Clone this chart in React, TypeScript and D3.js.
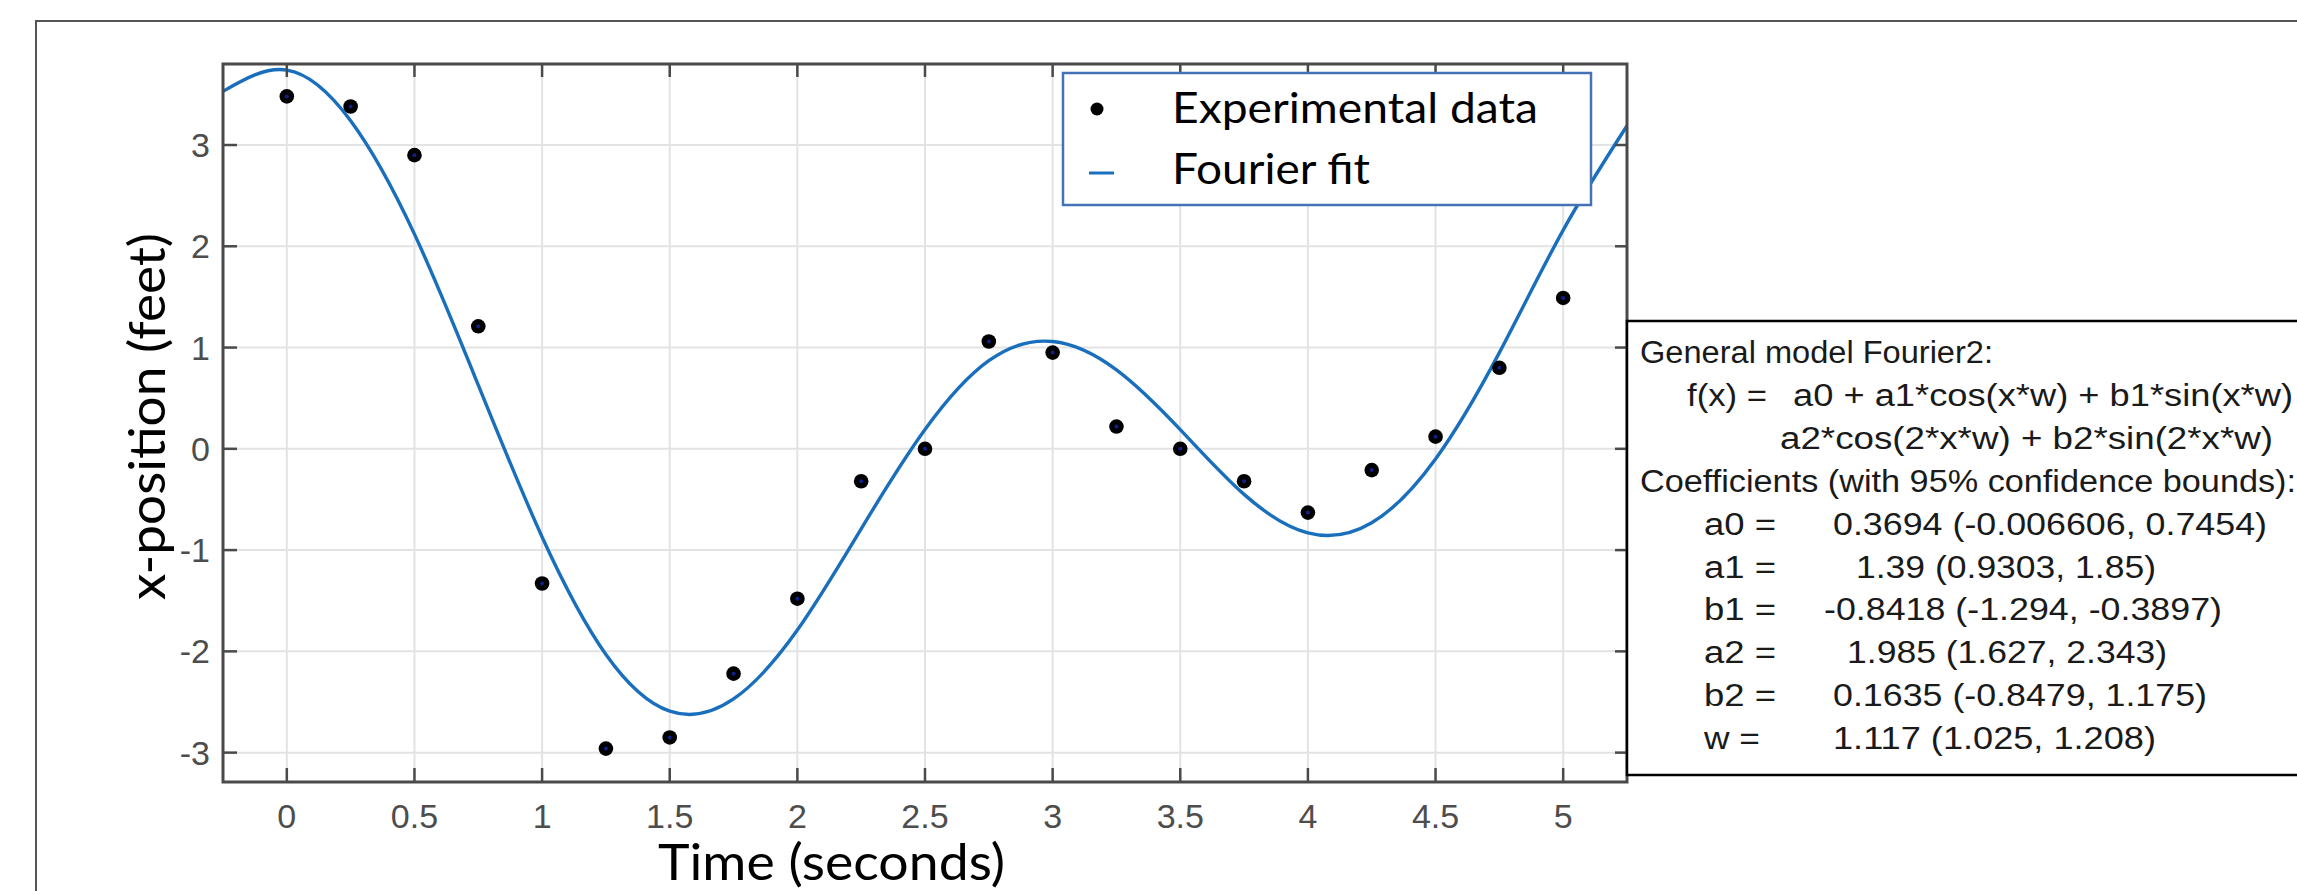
import React, { useEffect } from 'react';
import * as d3 from 'd3';

// measured positions (seconds) and x-position (feet)
const timeValues = [0, 0.25, 0.5, 0.75, 1, 1.25, 1.5, 1.75, 2, 2.25, 2.5, 2.75, 3, 3.25, 3.5, 3.75, 4, 4.25, 4.5, 4.75, 5];
const positionValues = [3.48, 3.38, 2.9, 1.21, -1.33, -2.96, -2.85, -2.22, -1.48, -0.32, 0.0, 1.06, 0.95, 0.22, 0.0, -0.32, -0.63, -0.21, 0.12, 0.8, 1.49];

// fitted curve
const fitTimes = [-0.25, 0, 0.25, 0.5, 0.75, 1, 1.25, 1.5, 1.75, 2, 2.25, 2.5, 2.75, 3, 3.25, 3.5, 3.75, 4, 4.25, 4.5, 4.75, 5, 5.25];
const fitValues = [3.53, 3.74, 3.24, 2.12, 0.63, -0.87, -2.03, -2.59, -2.47, -1.79, -0.79, 0.19, 0.87, 1.06, 0.78, 0.19, -0.45, -0.83, -0.73, -0.1, 0.95, 2.16, 3.19];

const xTicks = [0, 0.5, 1, 1.5, 2, 2.5, 3, 3.5, 4, 4.5, 5];
const xTickLabels = ['0', '0.5', '1', '1.5', '2', '2.5', '3', '3.5', '4', '4.5', '5'];
const yTicks = [-3, -2, -1, 0, 1, 2, 3];
const yTickLabels = ['-3', '-2', '-1', '0', '1', '2', '3'];

const legendLabels = ['Experimental data', 'Fourier fit'];

const fitTitle = 'General model Fourier2:';
const fitLhs = 'f(x) =';
const fitTerms = ['a0 + a1*cos(x*w) + b1*sin(x*w)', 'a2*cos(2*x*w) + b2*sin(2*x*w)'];
const coefHeader = 'Coefficients (with 95% confidence bounds):';
const coefNames = ['a0 =', 'a1 =', 'b1 =', 'a2 =', 'b2 =', 'w ='];
const coefValues = ['0.3694  (-0.006606, 0.7454)', '1.39  (0.9303, 1.85)', '-0.8418  (-1.294, -0.3897)', '1.985  (1.627, 2.343)', '0.1635  (-0.8479, 1.175)', '1.117  (1.025, 1.208)'];

const W = 2297;
const H = 891;
const plot = { left: 223, right: 1627, top: 64, bottom: 782 };

const BLUE = '#1a6fbd';
const AXIS = '#4a4a4a';
const labelFont = 'Lato, "Open Sans", sans-serif';
const tickFont = '"Liberation Sans", Arial, sans-serif';

const App = () => {
    useEffect(() => {
        document.body.style.margin = '0';
    }, []);

    const x = d3.scaleLinear().domain([-0.25, 5.25]).range([plot.left, plot.right]);
    const y = d3.scaleLinear().domain([-3.29, 3.8]).range([plot.bottom, plot.top]);

    const line = d3.line<number>()
        .x((d, i) => x(fitTimes[i]))
        .y(d => y(d))
        .curve(d3.curveNatural);

    // layout of the results box text (starts / widths in px)
    const boxTop = 321;
    const boxLeft = 1627;
    const rowStep = 42.9;
    const firstBase = 363;
    const valueStart = [1833, 1856, 1824, 1847, 1833, 1833];
    const valueWidth = [434, 300, 398, 320, 374, 323];
    const nameWidth = [72, 72, 72, 72, 72, 56];

    return (
        <svg width={W} height={H} style={{ position: 'absolute', left: 0, top: 0, display: 'block' }}>
            <defs>
                <clipPath id="plotClip">
                    <rect x={plot.left} y={plot.top} width={plot.right - plot.left} height={plot.bottom - plot.top} />
                </clipPath>
            </defs>
            <rect x={0} y={0} width={W} height={H} fill="#fff" />

            {/* outer figure frame */}
            <path d={`M36,${H + 5} L36,21 L${W + 5},21`} fill="none" stroke="#555" strokeWidth={2} />

            {/* grid */}
            <g stroke="#e3e3e3" strokeWidth={2}>
                {xTicks.map(t => (
                    <line key={'gx' + t} x1={x(t)} x2={x(t)} y1={plot.top} y2={plot.bottom} />
                ))}
                {yTicks.map(t => (
                    <line key={'gy' + t} x1={plot.left} x2={plot.right} y1={y(t)} y2={y(t)} />
                ))}
            </g>

            {/* fit curve */}
            <path d={line(fitValues) || ''} fill="none" stroke={BLUE} strokeWidth={3.4} clipPath="url(#plotClip)" />

            {/* experimental data */}
            <g>
                {timeValues.map((t, i) => (
                    <g key={'p' + i}>
                        <circle cx={x(t)} cy={y(positionValues[i])} r={7.3} fill="#000" />
                        <circle cx={x(t)} cy={y(positionValues[i])} r={2} fill="#10208a" />
                    </g>
                ))}
            </g>

            {/* axes box and ticks */}
            <rect x={plot.left} y={plot.top} width={plot.right - plot.left} height={plot.bottom - plot.top}
                fill="none" stroke={AXIS} strokeWidth={3} />
            <g stroke={AXIS} strokeWidth={2.5}>
                {xTicks.map(t => (
                    <g key={'tx' + t}>
                        <line x1={x(t)} x2={x(t)} y1={plot.bottom} y2={plot.bottom - 14} />
                        <line x1={x(t)} x2={x(t)} y1={plot.top} y2={plot.top + 13} />
                    </g>
                ))}
                {yTicks.map(t => (
                    <g key={'ty' + t}>
                        <line x1={plot.left} x2={plot.left + 14} y1={y(t)} y2={y(t)} />
                        <line x1={plot.right} x2={plot.right - 12} y1={y(t)} y2={y(t)} />
                    </g>
                ))}
            </g>

            {/* tick labels */}
            <g fill="#4d4d4d" fontFamily={tickFont} fontSize={34}>
                {xTicks.map((t, i) => (
                    <text key={'lx' + t} x={x(t)} y={828} textAnchor="middle">{xTickLabels[i]}</text>
                ))}
                {yTicks.map((t, i) => (
                    <text key={'ly' + t} x={210} y={y(t) + 12} textAnchor="end">{yTickLabels[i]}</text>
                ))}
            </g>

            {/* axis titles */}
            <text x={658} y={880} fontFamily={labelFont} fontSize={50} fill="#000"
                textLength={347} lengthAdjust="spacingAndGlyphs">Time (seconds)</text>
            <text transform="translate(165,600) rotate(-90)" x={0} y={0} fontFamily={labelFont} fontSize={50} fill="#000"
                textLength={367} lengthAdjust="spacingAndGlyphs">x-position (feet)</text>

            {/* legend */}
            <g>
                <rect x={1063} y={73} width={528} height={132} fill="#fff" stroke="#4472b4" strokeWidth={2.5} />
                <circle cx={1097} cy={109} r={6.5} fill="#000" />
                <line x1={1089} x2={1114} y1={173} y2={173} stroke={BLUE} strokeWidth={3} />
                <text x={1172} y={123} fontFamily={labelFont} fontSize={42} fill="#000"
                    textLength={366} lengthAdjust="spacingAndGlyphs">{legendLabels[0]}</text>
                <text x={1172} y={184} fontFamily={labelFont} fontSize={42} fill="#000"
                    textLength={198} lengthAdjust="spacingAndGlyphs">{legendLabels[1]}</text>
            </g>

            {/* fit results box */}
            <g fontFamily={tickFont} fontSize={31} fill="#1a1a1a" style={{ whiteSpace: 'pre' }}>
                <rect x={boxLeft} y={boxTop} width={W - boxLeft + 10} height={775 - boxTop} fill="#fff" stroke="#000" strokeWidth={2.5} />
                <text x={1640} y={firstBase} textLength={353} lengthAdjust="spacingAndGlyphs">{fitTitle}</text>
                <text x={1687} y={firstBase + rowStep} textLength={80} lengthAdjust="spacingAndGlyphs">{fitLhs}</text>
                <text x={1793} y={firstBase + rowStep} textLength={500} lengthAdjust="spacingAndGlyphs">{fitTerms[0]}</text>
                <text x={1780} y={firstBase + 2 * rowStep} textLength={493} lengthAdjust="spacingAndGlyphs">{fitTerms[1]}</text>
                <text x={1640} y={firstBase + 3 * rowStep} textLength={656} lengthAdjust="spacingAndGlyphs">{coefHeader}</text>
                {coefNames.map((n, i) => (
                    <g key={'c' + i}>
                        <text x={1704} y={firstBase + (4 + i) * rowStep} textLength={nameWidth[i]} lengthAdjust="spacingAndGlyphs">{n}</text>
                        <text x={valueStart[i]} y={firstBase + (4 + i) * rowStep} textLength={valueWidth[i]} lengthAdjust="spacingAndGlyphs">{coefValues[i]}</text>
                    </g>
                ))}
            </g>
        </svg>
    );
};

export default App;
